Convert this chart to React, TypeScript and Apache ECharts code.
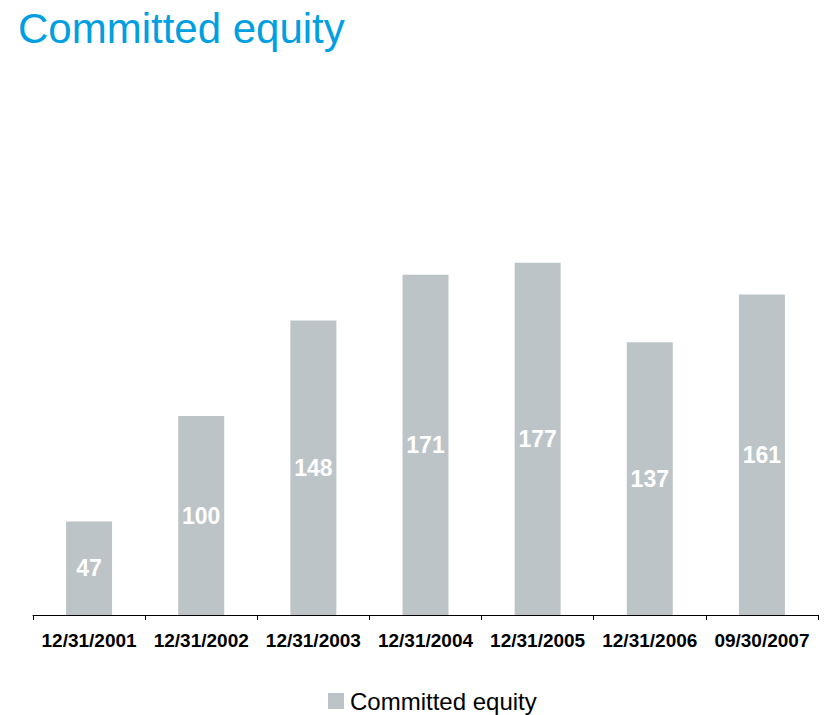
import React, { useEffect, useRef } from "react";
import * as echarts from "echarts";

const categories = [
  "12/31/2001",
  "12/31/2002",
  "12/31/2003",
  "12/31/2004",
  "12/31/2005",
  "12/31/2006",
  "09/30/2007",
];
const committedEquity = [47, 100, 148, 171, 177, 137, 161];
const seriesName = "Committed equity";
const titleText = "Committed equity";

const FONT = "'Liberation Sans', Arial, sans-serif";

export default function App() {
  const ref = useRef<HTMLDivElement>(null);
  useEffect(() => {
    if (!ref.current) return;
    const chart = echarts.init(ref.current, undefined, { renderer: "svg" });
    chart.setOption({
      animation: false,
      backgroundColor: "#ffffff",
      title: {
        text: titleText,
        left: 13,
        top: 2,
        textStyle: {
          color: "#00A0E0",
          fontFamily: FONT,
          fontSize: 42,
          fontWeight: "normal",
        },
      },
      legend: {
        data: [seriesName],
        left: 328,
        top: 689,
        icon: "rect",
        itemWidth: 16,
        itemHeight: 16,
        itemGap: 10,
        textStyle: {
          color: "#000000",
          fontFamily: FONT,
          fontSize: 24,
          padding: [0, 0, 0, 1],
        },
        padding: 0,
      },
      grid: {
        left: 33,
        right: 11,
        top: 217,
        bottom: 100,
        containLabel: false,
      },
      xAxis: {
        type: "category",
        data: categories,
        boundaryGap: true,
        axisLine: { show: true, lineStyle: { color: "#000000", width: 1 } },
        axisTick: { show: true, length: 5, lineStyle: { color: "#000000" } },
        axisLabel: {
          color: "#000000",
          fontFamily: FONT,
          fontSize: 19,
          fontWeight: "bold",
          margin: 16,
          interval: 0,
        },
      },
      yAxis: {
        type: "value",
        min: 0,
        max: 200,
        show: false,
        splitLine: { show: false },
      },
      series: [
        {
          name: seriesName,
          type: "bar",
          data: committedEquity,
          barWidth: 46,
          itemStyle: { color: "#BDC4C7" },
          label: {
            show: true,
            position: "inside",
            color: "#ffffff",
            fontFamily: FONT,
            fontSize: 23,
            fontWeight: "bold",
          },
        },
      ],
    });
    return () => chart.dispose();
  }, []);
  return (
    <div
      ref={ref}
      style={{ position: "absolute", left: 0, top: 0, width: 829, height: 715 }}
    />
  );
}
